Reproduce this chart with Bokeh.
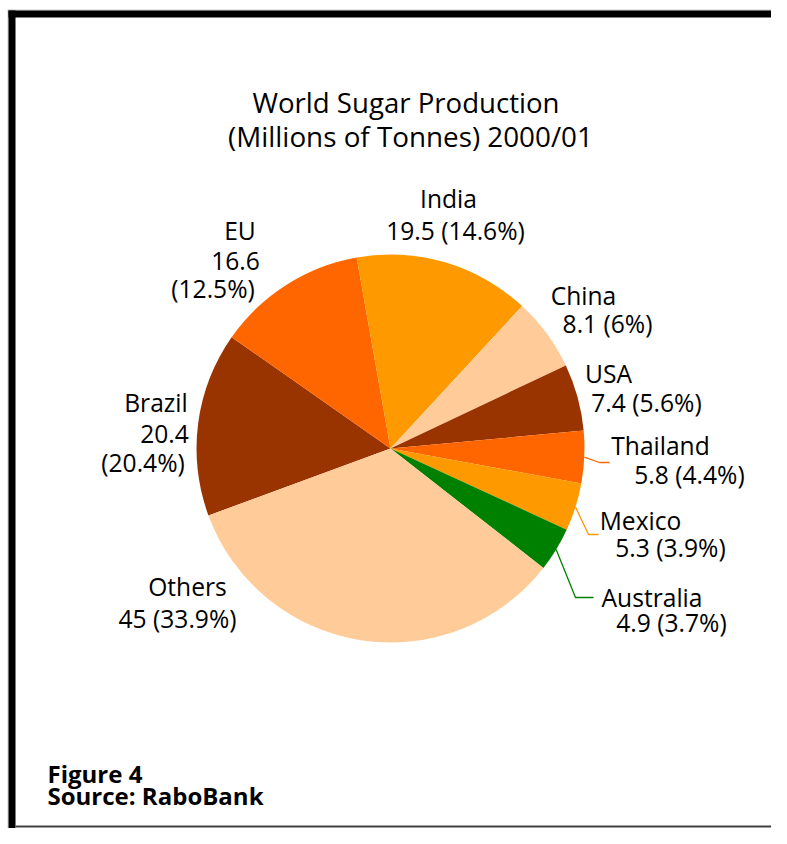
from bokeh.plotting import figure
from bokeh.models import Range1d
from bokeh.embed import file_html
from bokeh.resources import INLINE
from bokeh.core.properties import value
import math

# ---- data ----
countries = ["Brazil", "EU", "India", "China", "USA", "Thailand", "Mexico", "Australia", "Others"]
production = [20.4, 16.6, 19.5, 8.1, 7.4, 5.8, 5.3, 4.9, 45.0]
label_line1 = ["Brazil", "EU", "India", "China", "USA", "Thailand", "Mexico", "Australia", "Others"]
label_line2 = ["20.4", "16.6", "19.5 (14.6%)", "8.1 (6%)", "7.4 (5.6%)", "5.8 (4.4%)",
               "5.3 (3.9%)", "4.9 (3.7%)", "45 (33.9%)"]
label_line3 = ["(20.4%)", "(12.5%)", "", "", "", "", "", "", ""]
title_lines = ["World Sugar Production", "(Millions of Tonnes) 2000/01"]
notes = ["Figure 4", "Source: RaboBank"]

# ---- style / layout ----
colors = ["#993300", "#FF6600", "#FF9900", "#FFCC99", "#993300", "#FF6600", "#FF9900", "#008000", "#FFCC99"]
W, H = 771, 828
CX, CY, R = 390, 448, 194
START = 200.2  # degrees, slices run clockwise from here
FONT = "Open Sans"

# label positions (x centre, baselines of lines) in picture pixels
lab_x1 = [155.5, 239.5, 448, 583, 608, 660, 640, 651.5, 187]
lab_x2 = [164, 235, 455, 607, 646, 689, 670, 671, 177]
lab_x3 = [142.5, 212.5, 0, 0, 0, 0, 0, 0, 0]
lab_y1 = [412, 240, 208, 305, 383, 455, 530, 607, 596]
lab_y2 = [443, 270, 240, 333, 412, 484, 557, 632, 628]
lab_y3 = [472, 298, 0, 0, 0, 0, 0, 0, 0]
# leader line elbows for small slices
leaders = {"Thailand": [(599, 462), (609, 462)],
           "Mexico": [(588, 534), (598, 534)],
           "Australia": [(575, 597), (593, 597)]}

p = figure(width=W, height=H, output_backend="svg", toolbar_location=None,
           x_range=Range1d(0, W), y_range=Range1d(-H, 0),
           min_border=0, background_fill_color="white", border_fill_color="white")
p.axis.visible = False
p.grid.visible = False
p.outline_line_color = None

# frame
p.line([7.5, 7.5], [-9, -H], line_color="#c8c8c8", line_width=1)
p.line([7.5, W], [-9.5, -9.5], line_color="#c8c8c8", line_width=1)
p.quad(left=[8], right=[15], top=[-10], bottom=[-H], fill_color="black", line_color=None)
p.quad(left=[8], right=[W], top=[-10], bottom=[-17], fill_color="black", line_color=None)
p.line([15, W], [-(H - 2), -(H - 2)], line_color="#404040", line_width=2)

# pie
total = sum(production)
cum = 0.0
starts, ends, mids = [], [], []
for v in production:
    a_end = START - cum / total * 360
    a_start = START - (cum + v) / total * 360
    starts.append(math.radians(a_start))
    ends.append(math.radians(a_end))
    mids.append(math.radians((a_start + a_end) / 2))
    cum += v
p.wedge(x=[CX] * len(production), y=[-CY] * len(production), radius=R,
        start_angle=starts, end_angle=ends, direction="anticlock",
        fill_color=colors, line_color=None)

# leader lines
for i, c in enumerate(countries):
    if c in leaders:
        a = mids[i]
        x0 = CX + R * math.cos(a)
        y0 = -CY + R * math.sin(a)
        xs = [x0] + [pt[0] for pt in leaders[c]]
        ys = [y0] + [-pt[1] for pt in leaders[c]]
        p.line(xs, ys, line_color=colors[i], line_width=1.3)

# labels (baseline correction for the renderer's alphabetic offset)
def txt(x, y, s, size, style="normal", align="center"):
    y_adj = y - 0.40 * size
    p.text(x=[x], y=[-y_adj], text=[s], text_font=value(FONT), text_font_size=f"{size}px",
           text_align=align, text_baseline="alphabetic", text_color="black",
           text_font_style=style)

for i in range(len(countries)):
    txt(lab_x1[i], lab_y1[i], label_line1[i], 24.6)
    txt(lab_x2[i], lab_y2[i], label_line2[i], 24.6)
    if label_line3[i]:
        txt(lab_x3[i], lab_y3[i], label_line3[i], 24.6)

txt(405.5, 113, title_lines[0], 27.6)
txt(410, 147, title_lines[1], 27.8)

txt(47, 783, notes[0], 24, style="bold", align="left")
txt(47, 805, notes[1], 24, style="bold", align="left")

open("out.html", "w").write(file_html(p, INLINE))
